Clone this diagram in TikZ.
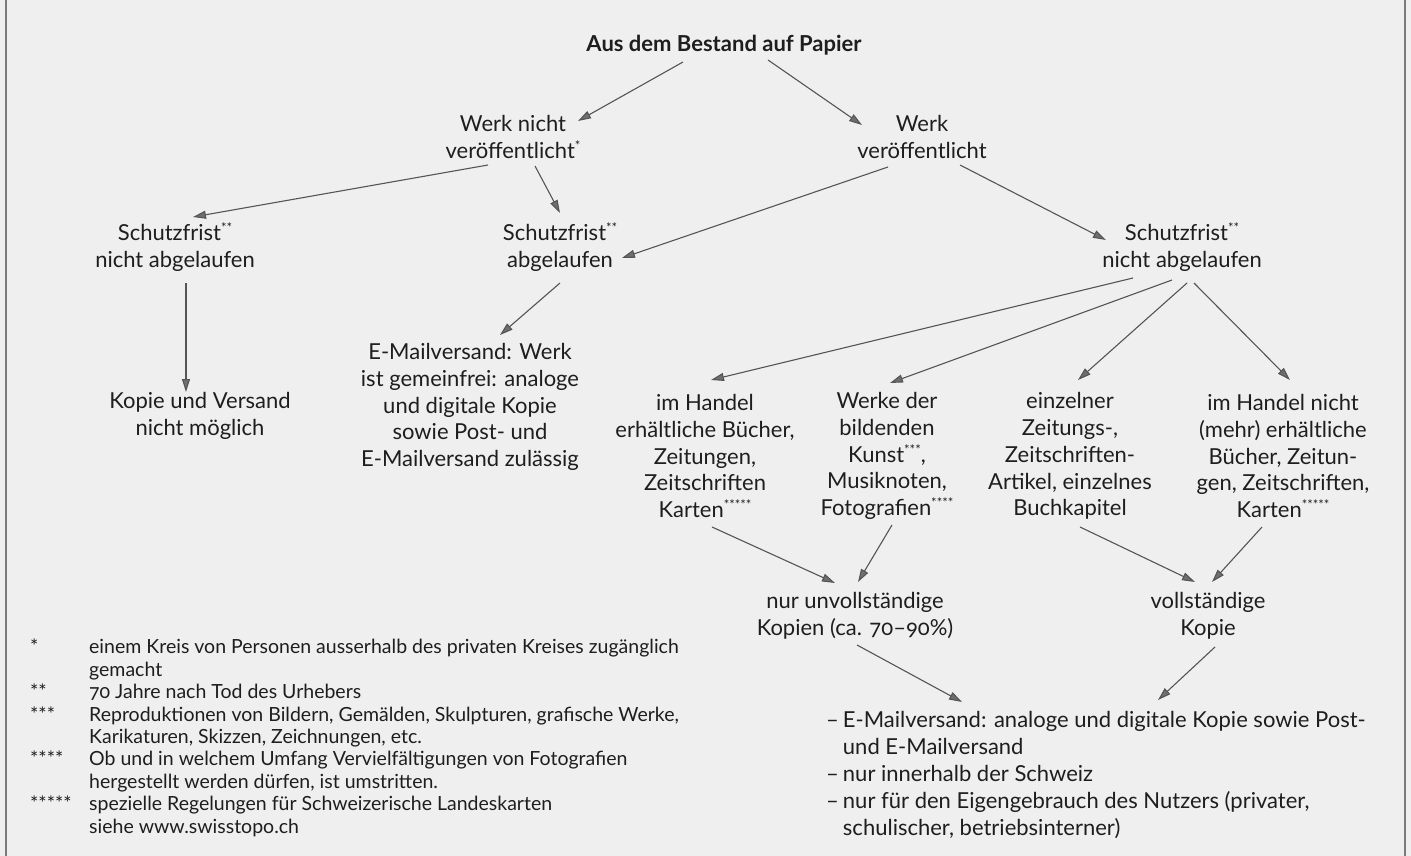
\documentclass[tikz,border=0pt]{standalone}
\usepackage{fontspec}
\setmainfont{Lato}[Numbers=OldStyle]
\usetikzlibrary{arrows.meta,calc}
\definecolor{bg}{HTML}{EFEFEF}
\definecolor{ink}{HTML}{1E1E1E}
\definecolor{ln}{HTML}{555555}
\definecolor{framec}{HTML}{7A7A7A}
\newcommand\sst[1]{\raisebox{0.36em}{\fontsize{13}{13}\selectfont #1}}
\begin{document}
\begin{tikzpicture}[x=1pt,y=-1pt,
  lbl/.style={align=center,inner sep=0pt,text=ink,font=\fontsize{22}{26.8}\selectfont},
  arr/.style={draw=ln,line width=1.1pt,-{Triangle[length=13pt,width=8pt,fill=ln!85!white]}}]
\useasboundingbox (0,0) rectangle (1411,856);
\fill[bg] (0,0) rectangle (1411,856);
\draw[framec,line width=1.5pt] (6,0) -- (6,856);
\draw[framec,line width=1.5pt] (1405,0) -- (1405,856);

\node[lbl,font=\bfseries\fontsize{22}{26.8}\selectfont] (t) at (724,45) {Aus dem Bestand auf Papier};
\node[lbl] (wn) at (513,137) {Werk nicht\\ veröffentlicht\sst{*}};
\node[lbl] (wv) at (922,137) {Werk\\ veröffentlicht};
\node[lbl] (s1) at (175,247) {Schutzfrist\sst{**}\\ nicht abgelaufen};
\node[lbl] (s2) at (560,247) {Schutzfrist\sst{**}\\ abgelaufen};
\node[lbl] (s3) at (1182,247) {Schutzfrist\sst{**}\\ nicht abgelaufen};
\node[lbl] (kv) at (200,416) {Kopie und Versand\\ nicht möglich};
\node[lbl] (em) at (470,407) {E-Mailversand: Werk\\ ist gemeinfrei: analoge\\ und digitale Kopie\\ sowie Post- und\\ E-Mailversand zulässig};
\node[lbl] (h1) at (705,456) {im Handel\\ erhältliche Bücher,\\ Zeitungen,\\ Zeitschriften\\ Karten\sst{*****}};
\node[lbl] (h2) at (887,456) {Werke der\\ bildenden\\ Kunst\sst{***},\\ Musiknoten,\\ Fotografien\sst{****}};
\node[lbl] (h3) at (1070,456) {einzelner\\ Zeitungs-,\\ Zeitschriften-\\ Artikel, einzelnes\\ Buchkapitel};
\node[lbl] (h4) at (1283,456) {im Handel nicht\\ (mehr) erhältliche\\ Bücher, Zeitun-\\ gen, Zeitschriften,\\ Karten\sst{*****}};
\node[lbl] (nu) at (855,616) {nur unvollständige\\ Kopien (ca. 70–90\%)};
\node[lbl] (vk) at (1208,616) {vollständige\\ Kopie};
\node[lbl,anchor=north west,align=left] (bl) at (826,709) {\begin{tabular}{@{}l@{\hspace{4pt}}l@{}}
–& E-Mailversand: analoge und digitale Kopie sowie Post-\\
 & und E-Mailversand\\
–& nur innerhalb der Schweiz\\
–& nur für den Eigengebrauch des Nutzers (privater,\\
 & schulischer, betriebsinterner)
\end{tabular}};

\node[lbl,anchor=north west,align=left,font=\fontsize{19.5}{22.4}\selectfont] (fn) at (30,638) {\begin{tabular}{@{}p{59pt}@{}l@{}}
{*}& einem Kreis von Personen ausserhalb des privaten Kreises zugänglich\\
{} & gemacht\\
{**}& 70 Jahre nach Tod des Urhebers\\
{***}& Reproduktionen von Bildern, Gemälden, Skulpturen, grafische Werke,\\
{} & Karikaturen, Skizzen, Zeichnungen, etc.\\
{****}& Ob und in welchem Umfang Vervielfältigungen von Fotografien\\
{} & hergestellt werden dürfen, ist umstritten.\\
{*****}& spezielle Regelungen für Schweizerische Landeskarten\\
{} & siehe www.swisstopo.ch
\end{tabular}};

\draw[arr] ($(t)+(-41,17)$) -- ($(wn)+(65,-16)$);
\draw[arr] ($(t)+(44,15)$) -- ($(wv)+(-60,-12)$);
\draw[arr] ($(wn)+(-25,28)$) -- ($(s1)+(18,-30)$);
\draw[arr] ($(wn)+(22,29)$) -- ($(s2)+(0,-34)$);
\draw[arr] ($(wv)+(-34,30)$) -- ($(s2)+(62,11)$);
\draw[arr] ($(wv)+(38,28)$) -- ($(s3)+(-76,-7)$);
\draw[arr] ($(s1)+(11,36)$) -- ($(kv)+(-14,-24)$);
\draw[arr] ($(s2)+(0,36)$) -- ($(em)+(30,-72)$);
\draw[arr] ($(s3)+(-49,31)$) -- ($(h1)+(6,-76)$);
\draw[arr] ($(s3)+(-10,33)$) -- ($(h2)+(3,-73)$);
\draw[arr] ($(s3)+(5,36)$) -- ($(h3)+(8,-76)$);
\draw[arr] ($(s3)+(12,36)$) -- ($(h4)+(7,-76)$);
\draw[arr] ($(h1)+(7,71)$) -- ($(nu)+(-20,-33)$);
\draw[arr] ($(h2)+(5,69)$) -- ($(nu)+(3,-34)$);
\draw[arr] ($(h3)+(10,71)$) -- ($(vk)+(-13,-34)$);
\draw[arr] ($(h4)+(-21,71)$) -- ($(vk)+(4,-34)$);
\draw[arr] ($(nu)+(2,29)$) -- ($(bl.north west)+(136,-7)$);
\draw[arr] ($(vk)+(7,31)$) -- ($(bl.north west)+(332,-9)$);
\end{tikzpicture}
\end{document}
